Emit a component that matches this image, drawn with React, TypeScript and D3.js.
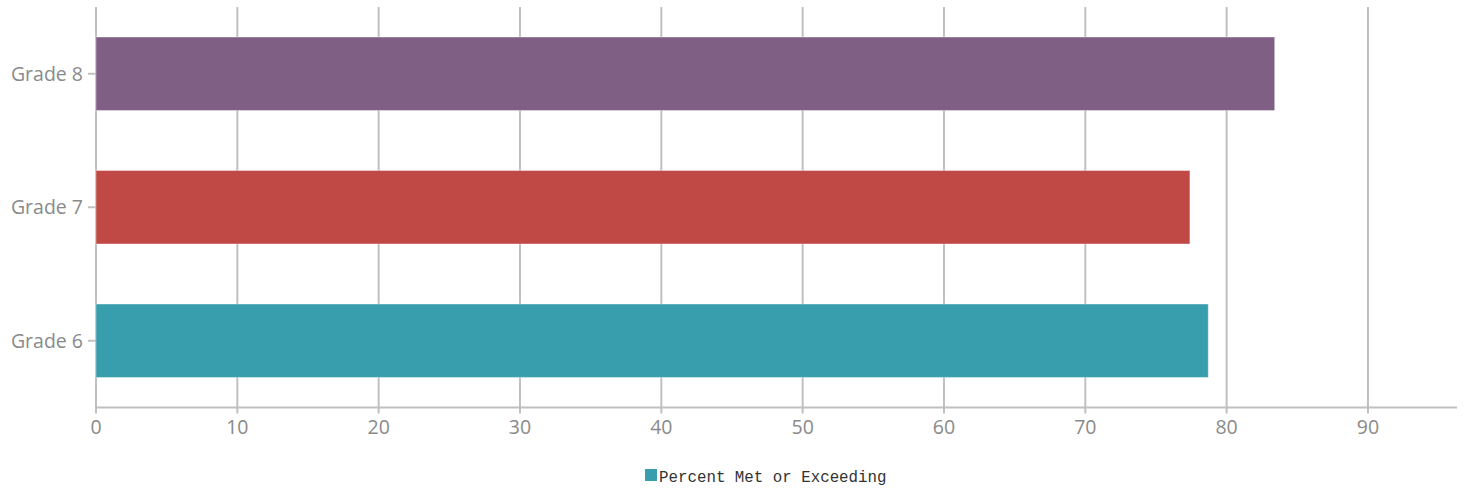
import React from "react";
import * as d3 from "d3";

const categories = ["Grade 8", "Grade 7", "Grade 6"];
const values = [83.4, 77.4, 78.7];
const barColors = ["#7f5f84", "#c04845", "#389eae"];
const xTicks = [0, 10, 20, 30, 40, 50, 60, 70, 80, 90];
const legendLabel = "Percent Met or Exceeding";

const W = 1467;
const H = 491;
const left = 96;
const right = 1457;
const top = 7;
const bottom = 407.5;

export default function App() {
  const x = d3.scaleLinear().domain([0, 96.3]).range([left, right]);
  const y = d3
    .scaleBand<string>()
    .domain(categories)
    .range([top, bottom])
    .paddingInner(0.45)
    .paddingOuter(0.225);
  const grid = "#c0c0c0";
  const tickColor = "#8a8a8a";
  return (
    <svg
      width={W}
      height={H}
      style={{ position: "absolute", left: 0, top: 0 }}
    >
      {xTicks.map((t) => (
        <line
          key={"g" + t}
          x1={x(t)}
          x2={x(t)}
          y1={top}
          y2={bottom + 6}
          stroke={grid}
          strokeWidth={2}
        />
      ))}
      <line x1={left} x2={right} y1={bottom} y2={bottom} stroke={grid} strokeWidth={2} />
      {categories.map((c, i) => (
        <g key={c}>
          <rect
            x={x(0)}
            y={y(c)}
            width={x(values[i]) - x(0)}
            height={y.bandwidth()}
            fill={barColors[i]}
            stroke="rgba(255,255,255,0.35)"
            strokeWidth={1}
          />
          <line
            x1={left - 8}
            x2={left}
            y1={(y(c) as number) + y.bandwidth() / 2}
            y2={(y(c) as number) + y.bandwidth() / 2}
            stroke={grid}
            strokeWidth={2}
          />
          <text
            x={left - 13}
            y={(y(c) as number) + y.bandwidth() / 2}
            dy="0.35em"
            textAnchor="end"
            fontFamily="'Open Sans', sans-serif"
            fontSize={19.5}
            fill={tickColor}
          >
            {c}
          </text>
        </g>
      ))}
      {xTicks.map((t) => (
        <text
          key={"t" + t}
          x={x(t)}
          y={427}
          dy="0.35em"
          textAnchor="middle"
          fontFamily="'Open Sans', sans-serif"
          fontSize={19.5}
          fill={tickColor}
        >
          {t}
        </text>
      ))}
      <rect x={645} y={469} width={12} height={12} fill={barColors[2]} />
      <text
        x={659}
        y={476}
        dy="0.35em"
        fontFamily="'Liberation Mono', monospace"
        fontSize={15.8}
        fill="#333"
      >
        {legendLabel}
      </text>
    </svg>
  );
}
